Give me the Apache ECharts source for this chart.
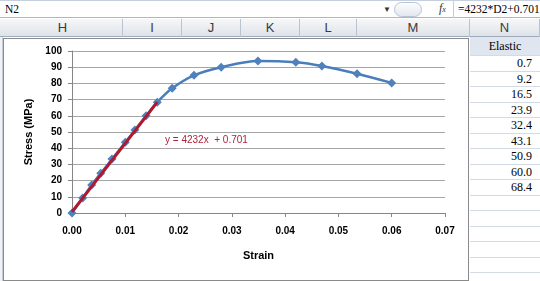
<!DOCTYPE html>
<html><head><meta charset="utf-8">
<script src="https://cdn.jsdelivr.net/npm/echarts@6/dist/echarts.min.js"></script>
<style>
html,body{margin:0;padding:0;width:540px;height:281px;overflow:hidden;background:#fff;}
body{position:relative;font-family:"Liberation Sans",Arial,sans-serif;}
#fbar{position:absolute;left:0;top:0;width:540px;height:18px;background:#fff;border-top:1px solid #c5d0de;border-bottom:1px solid #a9b7c9;box-sizing:border-box;}
.ftxt{position:absolute;top:1px;font-family:"Liberation Serif","Times New Roman",serif;font-size:11.5px;color:#000;line-height:15px;white-space:nowrap;}
#hdr{position:absolute;left:0;top:19px;width:540px;height:18px;background:linear-gradient(#f6f7f9,#dfe3e8);border-bottom:1px solid #9eabbd;box-sizing:border-box;}
.col{position:absolute;top:0;height:18px;line-height:18px;text-align:center;font-size:13px;color:#3a3a3a;border-right:1px solid #b9c2cf;box-sizing:border-box;}
#chartbox{position:absolute;left:3px;top:38px;width:466px;height:243px;border:1px solid #8a8a8a;box-sizing:border-box;background:#fff;}
#chart{position:absolute;left:0;top:0;width:464px;height:241px;}
#ncol{position:absolute;left:470px;top:37px;width:70px;height:244px;}
.cell{position:absolute;left:0;width:70px;height:15.5px;border-bottom:1px solid #d5dbe4;box-sizing:border-box;font-family:"Liberation Serif","Times New Roman",serif;font-size:12px;line-height:15px;text-align:right;padding-right:8px;color:#000;}
#leftstrip{position:absolute;left:0;top:37px;width:3px;height:244px;background:#f0f2f5;border-right:1px solid #c8ced8;box-sizing:border-box;}
</style></head>
<body>
<div id="fbar">
  <div class="ftxt" style="left:5px;">N2</div>
  <div style="position:absolute;left:383px;top:4px;font-size:8px;color:#333;">&#9660;</div>
  <div style="position:absolute;left:394px;top:1px;width:26px;height:13px;border:1px solid #b8c4d4;border-radius:8px;background:linear-gradient(#fbfcfd,#e3e8ef);"></div>
  <div style="position:absolute;left:439px;top:0px;font-family:'Liberation Serif',serif;font-style:italic;font-size:12px;color:#333;">f<span style="font-size:8px">x</span></div>
  <div style="position:absolute;left:453px;top:0;width:1px;height:17px;background:#c5ceda;"></div>
  <div class="ftxt" style="left:458px;">=4232*D2+0.701</div>
</div>
<div id="hdr"></div>
<div id="leftstrip"></div>
<div id="chartbox"><div id="chart"></div></div>
<div id="ncol"></div>
<script>
// ---- data ----
const strain = [0, 0.002, 0.0037, 0.0054, 0.0075, 0.01, 0.0118, 0.0139, 0.016, 0.0188, 0.0229, 0.028, 0.0349, 0.042, 0.0469, 0.0535, 0.06];
const stress = [0, 9.2, 17.3, 24.5, 33.3, 43.6, 51.2, 60.0, 68.4, 77.0, 85.0, 90.0, 93.9, 93.1, 90.8, 86.0, 80.3];
const trendStrain = [0, 0.016];
const trendStress = [0.7, 68.4];
const trendLabel = 'y = 4232x  + 0.701';
const elastic = ['0.7', '9.2', '16.5', '23.9', '32.4', '43.1', '50.9', '60.0', '68.4'];
const elasticHeader = 'Elastic';
const colLetters = ['H', 'I', 'J', 'K', 'L', 'M', 'N'];
// ---- layout (not data) ----
const colEdges = [3, 123, 182, 241, 300, 357, 470, 540];

const hdr = document.getElementById('hdr');
colLetters.forEach((c, i) => {
  const d = document.createElement('div');
  d.className = 'col';
  d.style.left = colEdges[i] + 'px';
  d.style.width = (colEdges[i + 1] - colEdges[i]) + 'px';
  d.textContent = c;
  hdr.appendChild(d);
});
const ncol = document.getElementById('ncol');
const rowH = 15.5;
const h = document.createElement('div');
h.className = 'cell';
h.style.top = '0px';
h.style.height = '19px';
h.style.lineHeight = '19px';
h.style.textAlign = 'center';
h.style.paddingRight = '0';
h.style.background = '#dfe6ef';
h.textContent = elasticHeader;
ncol.appendChild(h);
for (let i = 0; i < 15; i++) {
  const d = document.createElement('div');
  d.className = 'cell';
  d.style.top = (19 + i * rowH) + 'px';
  d.textContent = i < elastic.length ? elastic[i] : '';
  ncol.appendChild(d);
}

const chart = echarts.init(document.getElementById('chart'));
const axisCol = '#868686';
const lbl = { color: '#000', fontSize: 10, fontWeight: 'bold', fontFamily: 'Liberation Sans' };
chart.setOption({
  animation: false,
  grid: { left: 68, right: 23, top: 12, bottom: 67 },
  xAxis: {
    type: 'value', min: 0, max: 0.07, interval: 0.01,
    axisLine: { show: true, lineStyle: { color: axisCol } },
    axisTick: { show: true, length: 4, lineStyle: { color: axisCol } },
    splitLine: { show: false },
    axisLabel: Object.assign({ margin: 13, formatter: v => v.toFixed(2) }, lbl),
    name: 'Strain', nameLocation: 'middle', nameGap: 37,
    nameTextStyle: { color: '#000', fontSize: 11, fontWeight: 'bold', fontFamily: 'Liberation Sans' }
  },
  yAxis: {
    type: 'value', min: 0, max: 100, interval: 10,
    axisLine: { show: true, lineStyle: { color: axisCol } },
    axisTick: { show: true, length: 4, lineStyle: { color: axisCol } },
    splitLine: { show: true, lineStyle: { color: '#a6a6a6' } },
    axisLabel: Object.assign({ margin: 10 }, lbl),
    name: 'Stress (MPa)', nameLocation: 'middle', nameGap: 38,
    nameTextStyle: { color: '#000', fontSize: 11, fontWeight: 'bold', fontFamily: 'Liberation Sans' }
  },
  series: [
    {
      type: 'line', data: strain.map((x, i) => [x, stress[i]]),
      smooth: 0.35, symbol: 'diamond', symbolSize: 9,
      lineStyle: { color: '#4A7EBB', width: 2.5 },
      itemStyle: { color: '#4F81BD' }, z: 2
    },
    {
      type: 'line', data: trendStrain.map((x, i) => [x, trendStress[i]]),
      symbol: 'none', lineStyle: { color: '#B0182C', width: 3 }, z: 3
    }
  ],
  graphic: [{
    type: 'text', left: 161, top: 96,
    style: { text: trendLabel, fill: '#B0243A', font: '10px "Liberation Sans"' }
  }]
});
</script>
</body></html>
